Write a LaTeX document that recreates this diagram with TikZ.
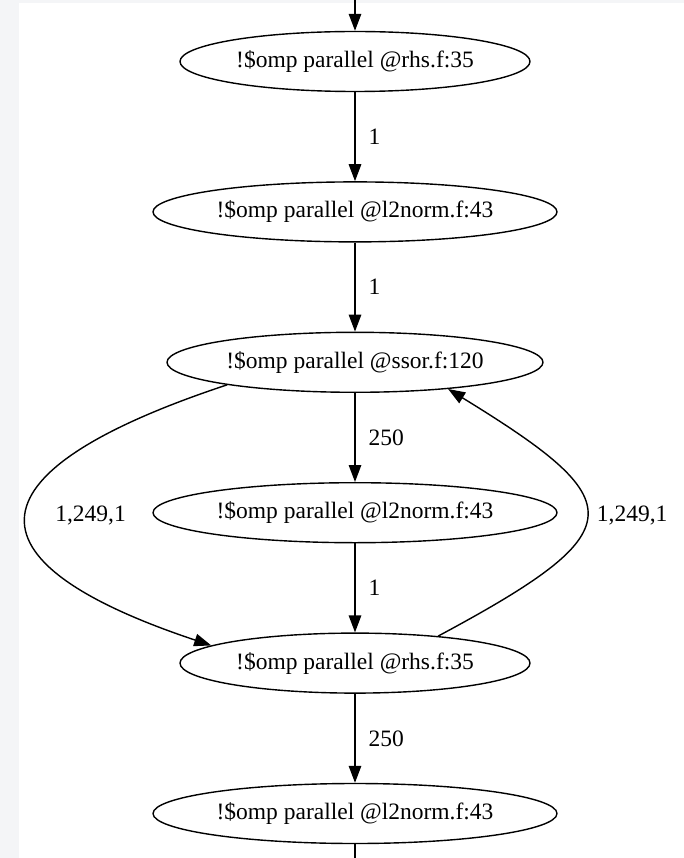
\documentclass[tikz,border=0pt]{standalone}
\usepackage{fontspec}
\setmainfont{Liberation Serif}
\usetikzlibrary{shapes.geometric,arrows.meta}
\definecolor{framegray}{HTML}{F4F5F7}
\begin{document}
\begin{tikzpicture}[x=1pt,y=-1pt,
  every node/.style={font=\fontsize{23.5}{28}\selectfont},
  gnode/.style={draw, ellipse, line width=1.4pt, inner sep=0pt, minimum height=60pt},
  garrow/.style={line width=1.4pt, -{Triangle[length=17pt,width=12.5pt]}},
  lbl/.style={anchor=west, inner sep=0pt}]
\useasboundingbox (0,0) rectangle (684,858);
\fill[framegray] (0,0) rectangle (684,858);
\fill[white] (19,3) rectangle (684,858);
\node[gnode, minimum width=350pt] (n1) at (355,61.5) {!\$omp parallel @rhs.f:35};
\node[gnode, minimum width=404pt] (n2) at (355,211.9) {!\$omp parallel @l2norm.f:43};
\node[gnode, minimum width=376pt] (n3) at (355,362.3) {!\$omp parallel @ssor.f:120};
\node[gnode, minimum width=404pt] (n4) at (355,512.7) {!\$omp parallel @l2norm.f:43};
\node[gnode, minimum width=350pt] (n5) at (355,663.1) {!\$omp parallel @rhs.f:35};
\node[gnode, minimum width=404pt] (n6) at (355,813.5) {!\$omp parallel @l2norm.f:43};
\coordinate (top) at (355,0);
\coordinate (bot) at (355,858);
\draw[garrow] (top) -- (n1);
\draw[garrow] (n1) -- node[lbl, xshift=13pt] (l1) {1} (n2);
\draw[garrow] (n2) -- node[lbl, xshift=13pt] (l2) {1} (n3);
\draw[garrow] (n3) -- node[lbl, xshift=13pt] (l3) {250} (n4);
\draw[garrow] (n4) -- node[lbl, xshift=13pt] (l4) {1} (n5);
\draw[garrow] (n5) -- node[lbl, xshift=13pt] (l5) {250} (n6);
\draw[line width=1.4pt] (n6) -- (bot);
\draw[garrow] (n3.190.4) .. controls (-30,470) and (-45,560) .. node[lbl, pos=0.5, xshift=28pt] (l6) {1,249,1} (n5.173.2);
\draw[garrow] (n5.18.6) .. controls (636,530) and (632,502) .. node[lbl, pos=0.5, xshift=10pt] (l7) {1,249,1} (n3.344.4);
\end{tikzpicture}
\end{document}
